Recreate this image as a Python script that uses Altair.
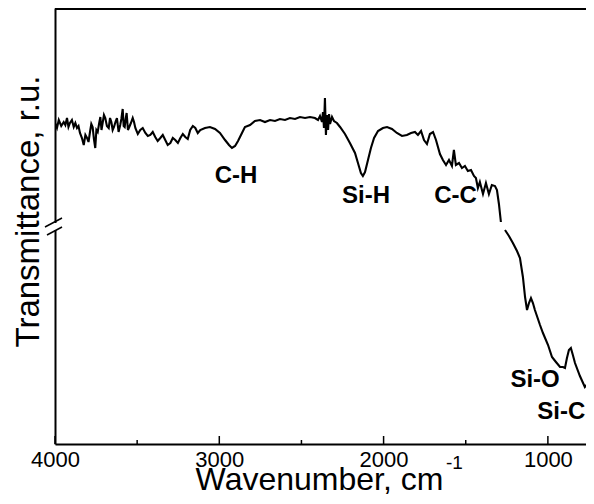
import altair as alt
import pandas as pd

# ---- data (wavenumber, cm-1 ; transmittance, arbitrary units) ----
wn_high = [4000, 3988, 3977, 3962, 3947, 3937, 3927, 3918, 3909, 3897, 3886, 3876, 3866, 3857,
           3848, 3836, 3825, 3815, 3805, 3796, 3787, 3779, 3771, 3763, 3755, 3748, 3740, 3732,
           3724, 3717, 3710, 3702, 3694, 3684, 3673, 3665, 3657, 3649, 3641, 3632, 3623, 3613,
           3603, 3596, 3588, 3582, 3576, 3570, 3564, 3556, 3548, 3538, 3527, 3519, 3511,
           3496, 3481, 3466, 3450, 3435, 3420, 3405, 3390, 3375, 3359, 3344, 3329, 3314, 3298,
           3283, 3268, 3252, 3237, 3222, 3207, 3192, 3177, 3161, 3146, 3131, 3116, 3087, 3057,
           3026, 2996, 2965, 2941, 2923, 2904, 2886, 2862, 2844, 2813, 2783, 2752, 2722, 2691,
           2661, 2631, 2600, 2570, 2539, 2509, 2478, 2448, 2418, 2399, 2387, 2375, 2369, 2363,
           2357, 2351, 2345, 2338, 2332, 2326, 2314, 2302, 2284, 2265, 2235, 2205, 2174, 2156,
           2138, 2126, 2113, 2095, 2077, 2058, 2034, 2004, 1979, 1949, 1919, 1888, 1858, 1833,
           1809, 1791, 1772, 1754, 1736, 1718, 1699, 1681, 1657, 1639, 1620, 1602, 1584, 1572,
           1560, 1541, 1523, 1505, 1487, 1468, 1450, 1438, 1426, 1414, 1395, 1377, 1359, 1341,
           1322, 1310, 1298, 1286]
tr_high = [321, 316, 324, 318, 322, 319, 326, 317, 321, 324, 317, 321, 316, 318,
           311, 306, 299, 309, 306, 302, 312, 320, 317, 305, 296, 314, 312, 320,
           327, 314, 321, 329, 326, 318, 316, 326, 322, 314, 317, 322, 326, 312,
           319, 325, 335, 318, 317, 325, 331, 314, 317, 321, 326, 322, 316,
           310, 314, 316, 311, 308, 309, 312, 307, 303, 306, 309, 304, 299, 301,
           306, 304, 301, 306, 310, 307, 305, 314, 318, 316, 311, 314, 316, 317,
           315, 311, 304, 299, 296, 298, 303, 311, 317, 319, 323, 324, 322, 324,
           323, 325, 324, 326, 325, 327, 326, 327, 326, 324, 328, 322, 332, 316,
           346, 309, 329, 314, 330, 320, 327, 323, 321, 317, 310, 301, 291, 281,
           271, 268, 272, 284, 296, 306, 313, 316, 317, 315, 311, 308, 309, 311,
           312, 309, 313, 304, 300, 310, 312, 304, 290, 284, 279, 284, 278, 294,
           279, 281, 276, 278, 273, 274, 268, 266, 256, 262, 250, 261, 250, 259,
           258, 254, 240, 222]

wn_low = [1261, 1237, 1213, 1188, 1170, 1152, 1139, 1127, 1115, 1103, 1091, 1079, 1048, 1030,
          999, 975, 951, 926, 908, 896, 884, 872, 860, 848, 835, 805, 775, 750, 720]
tr_low = [214, 208, 201, 193, 186, 167, 147, 134, 141, 146, 141, 134, 119, 111,
          99, 87, 82, 77, 77, 76, 86, 94, 96, 89, 81, 68, 57, 62, 74]

band_labels = ["C-H", "Si-H", "C-C", "Si-O", "Si-C"]
band_wn = [2898, 2107, 1562, 1078, 918]
band_tr = [261, 241, 241, 57, 25]

major_ticks = [4000, 3000, 2000, 1000]
minor_ticks = [3500, 2500, 1500]

assert len(wn_high) == len(tr_high) and len(wn_low) == len(tr_low)

W, H = 531, 436
FONT = "Liberation Sans"

spec = pd.DataFrame({
    "wn": wn_high + wn_low,
    "tr": tr_high + tr_low,
    "seg": ["a"] * len(wn_high) + ["b"] * len(wn_low),
})
labels = pd.DataFrame({"label": band_labels, "wn": band_wn, "tr": band_tr})

xs = alt.Scale(domain=[4000, 768], nice=False, zero=False)
ys = alt.Scale(domain=[0, 436], nice=False, zero=False)

x_axis = alt.Axis(values=major_ticks, ticks=False, grid=False, format="d",
                  labelFont=FONT, labelFontSize=22, labelColor="black",
                  labelPadding=5, labelFlush=False, labelOverlap=False, labelBound=False,
                  title="Wavenumber, cm", titleFont=FONT, titleFontSize=32,
                  titleFontWeight="normal", titleColor="black",
                  titleX=264, titleY=45, titleAlign="center", titleBaseline="alphabetic",
                  domainColor="black", domainWidth=2)
y_axis = alt.Axis(labels=False, ticks=False, grid=False,
                  title="Transmittance, r.u.", titleFont=FONT, titleFontSize=33,
                  titleFontWeight="normal", titleColor="black",
                  titleAngle=270, titleX=-17, titleY=203, titleAlign="center",
                  titleBaseline="alphabetic",
                  domainColor="black", domainWidth=2)

line = alt.Chart(spec).mark_line(color="black", strokeWidth=2.1, clip=True).encode(
    x=alt.X("wn:Q", scale=xs, axis=x_axis),
    y=alt.Y("tr:Q", scale=ys, axis=y_axis),
    detail="seg:N",
)

tick_major = alt.Chart(pd.DataFrame({"wn": major_ticks})).mark_rule(
    color="black", strokeWidth=1.5).encode(
    x=alt.X("wn:Q", scale=xs, axis=x_axis), y=alt.value(H), y2=alt.value(H - 8))
tick_minor = alt.Chart(pd.DataFrame({"wn": minor_ticks})).mark_rule(
    color="black", strokeWidth=1.5).encode(
    x=alt.X("wn:Q", scale=xs, axis=x_axis), y=alt.value(H), y2=alt.value(H - 4))

text = alt.Chart(labels).mark_text(
    font=FONT, fontSize=24, fontWeight="bold", color="black",
    align="center", baseline="alphabetic").encode(
    x=alt.X("wn:Q", scale=xs, axis=x_axis), y=alt.Y("tr:Q", scale=ys, axis=y_axis),
    text="label:N")

# frame top line
top = alt.Chart(pd.DataFrame({"k": [0]})).mark_rect(color="black").encode(
    x=alt.value(0), x2=alt.value(W), y=alt.value(0), y2=alt.value(2))

# axis break
gap = alt.Chart(pd.DataFrame({"k": [0]})).mark_rect(color="white").encode(
    x=alt.value(-3), x2=alt.value(3), y=alt.value(215), y2=alt.value(222))
slash1 = alt.Chart(pd.DataFrame({"k": [0]})).mark_rule(color="black", strokeWidth=1.5).encode(
    x=alt.value(-10), x2=alt.value(7), y=alt.value(219), y2=alt.value(210))
slash2 = alt.Chart(pd.DataFrame({"k": [0]})).mark_rule(color="black", strokeWidth=1.5).encode(
    x=alt.value(-8), x2=alt.value(7), y=alt.value(227), y2=alt.value(219))

sup = alt.Chart(pd.DataFrame({"s": ["-1"]})).mark_text(
    font=FONT, fontSize=19, color="black", align="left", baseline="alphabetic").encode(
    text="s:N", x=alt.value(391), y=alt.value(461))

chart = alt.layer(line, tick_major, tick_minor, text, top, gap, slash1, slash2, sup).properties(
    width=W, height=H,
    autosize=alt.AutoSizeParams(type="none"),
    padding={"left": 47, "top": 0, "right": 0, "bottom": 52},
).configure_view(stroke=None).configure(background="white")

chart.save("out.html", embed_options={"renderer": "svg", "actions": False})
